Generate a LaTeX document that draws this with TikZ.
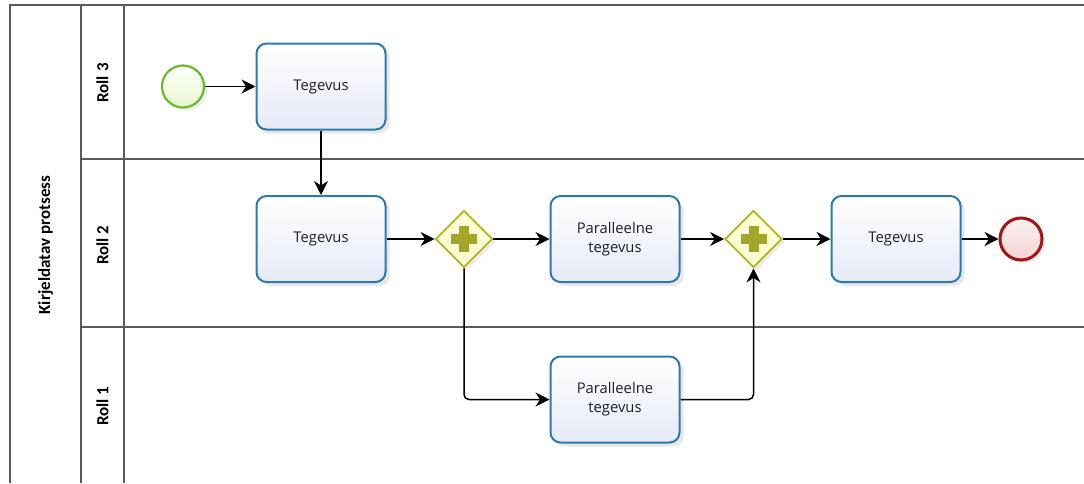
\documentclass[tikz,border=0pt]{standalone}
\usepackage{fontspec}
\setmainfont{Open Sans}
\newfontfamily\lanefont{Carlito}
\usetikzlibrary{shapes.geometric,arrows.meta,shadows}

\definecolor{poolline}{HTML}{5A5A5A}
\definecolor{taskborder}{HTML}{2B7BAE}
\definecolor{taskfill}{HTML}{E6EAF8}
\definecolor{gateborder}{HTML}{B3B51A}
\definecolor{gatefill}{HTML}{FFFFD6}
\definecolor{plusfill}{HTML}{A3A62A}
\definecolor{startborder}{HTML}{6CBB2C}
\definecolor{startfill}{HTML}{EAF7CF}
\definecolor{endborder}{HTML}{A31515}
\definecolor{endfill}{HTML}{F6D3D3}
\definecolor{textcol}{HTML}{1E1E2A}

\tikzset{
  poolrule/.style={draw=poolline, line width=1.3pt},
  lanelabel/.style={rotate=90, font=\lanefont\bfseries\fontsize{17}{20}\selectfont, text=black},
  task/.style={rectangle, rounded corners=10pt, draw=taskborder, line width=2pt,
    top color=white, bottom color=taskfill,
    minimum width=129pt, minimum height=86pt, align=center,
    font=\fontsize{14.8}{19}\selectfont, text=textcol,
    drop shadow={opacity=0.18, shadow xshift=4pt, shadow yshift=-4pt}},
  gateway/.style={diamond, aspect=1, draw=gateborder, line width=1.8pt, fill=gatefill,
    minimum width=57pt, minimum height=57pt, inner sep=0pt,
    drop shadow={opacity=0.15, shadow xshift=3pt, shadow yshift=-3pt},
    path picture={
      \fill[plusfill] ([shift={(-13pt,-5pt)}]path picture bounding box.center)
        rectangle ([shift={(13pt,5pt)}]path picture bounding box.center);
      \fill[plusfill] ([shift={(-5pt,-13pt)}]path picture bounding box.center)
        rectangle ([shift={(5pt,13pt)}]path picture bounding box.center);
    }},
  startev/.style={circle, draw=startborder, line width=2.2pt,
    top color=white!90!startfill, bottom color=startfill, minimum size=42pt, inner sep=0pt,
    drop shadow={opacity=0.15, shadow xshift=3pt, shadow yshift=-3pt}},
  endev/.style={circle, draw=endborder, line width=3pt,
    top color=white!70!endfill, bottom color=endfill, minimum size=42pt, inner sep=0pt,
    drop shadow={opacity=0.15, shadow xshift=3pt, shadow yshift=-3pt}},
  flow/.style={draw=black, line width=1.5pt, -{Stealth[length=14pt,width=14pt,inset=4.5pt]}},
}

\begin{document}
\begin{tikzpicture}[x=1pt, y=-1pt]
  \useasboundingbox (0,0) rectangle (1084,483);
  \fill[white] (0,0) rectangle (1084,483);

  % pool and lane frame
  \path[poolrule] (10,483) -- (10,5) -- (1084,5);
  \path[poolrule] (81,5) -- (81,483);
  \path[poolrule] (124,5) -- (124,483);
  \path[poolrule] (81,159) -- (1084,159);
  \path[poolrule] (81,327) -- (1084,327);

  % pool and lane headers
  \node[lanelabel] (pool) at (45.5,245) {Kirjeldatav protsess};
  \node[lanelabel] (lane3) at (102.5,83) {Roll 3};
  \node[lanelabel] (lane2) at (102.5,245) {Roll 2};
  \node[lanelabel] (lane1) at (102.5,406) {Roll 1};

  % flow objects
  \node[startev] (start) at (183,86.5) {};
  \node[task] (t1) at (321,86.5) {Tegevus};
  \node[task] (t2) at (321,239) {Tegevus};
  \node[gateway] (g1) at (464,239) {};
  \node[task] (p1) at (615,239) {Paralleelne\\tegevus};
  \node[task] (p2) at (615,399.5) {Paralleelne\\tegevus};
  \node[gateway] (g2) at (753.5,239) {};
  \node[task] (t3) at (896,239) {Tegevus};
  \node[endev] (end) at (1021,239) {};

  % sequence flows
  \draw[flow] (start) -- (t1);
  \draw[flow] (t1) -- (t2);
  \draw[flow] (t2) -- (g1);
  \draw[flow] (g1) -- (p1);
  \draw[flow] (p1) -- (g2);
  \draw[flow] (g2) -- (t3);
  \draw[flow] (t3) -- (end);
  \draw[flow, rounded corners=5pt] (g1.south) |- (p2.west);
  \draw[flow, rounded corners=5pt] (p2.east) -| (g2.south);
\end{tikzpicture}
\end{document}
